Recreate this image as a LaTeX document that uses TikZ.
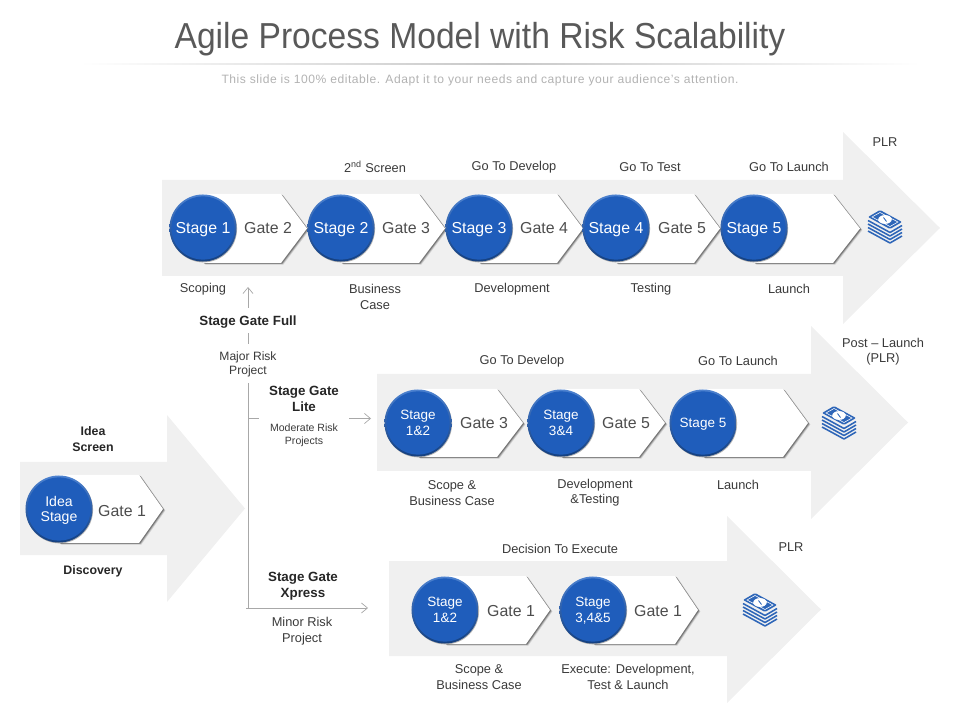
\documentclass[tikz,border=0pt]{standalone}
\usepackage{fontspec}
\setmainfont{Liberation Sans}
\usetikzlibrary{arrows.meta,shadows}

\definecolor{bandgrey}{HTML}{F0F0F0}
\definecolor{stageblue}{HTML}{1F5DBB}
\definecolor{stagerimtop}{HTML}{4C82D0}
\definecolor{stagerimlow}{HTML}{143F80}
\definecolor{cashblue}{HTML}{2E66B8}
\definecolor{labelgrey}{HTML}{3A3A3A}
\definecolor{gategrey}{HTML}{4D4D4D}
\definecolor{linkgrey}{HTML}{A8A8A8}

\tikzset{
	band/.style={fill=bandgrey},
	chevbox/.style={fill=white,
		drop shadow={shadow xshift=1.7pt,shadow yshift=-1.1pt,opacity=.12,fill=black},
		drop shadow={shadow xshift=1.2pt,shadow yshift=-.8pt,opacity=.2,fill=black},
		drop shadow={shadow xshift=.7pt,shadow yshift=-.5pt,opacity=.3,fill=black}},
	stagedisc/.style={shape=circle,minimum size=1.675cm,inner sep=0pt,align=center,text=white,text depth=0pt,top color=stagerimtop,bottom color=stagerimlow,
		drop shadow={shadow xshift=.4pt,shadow yshift=-.6pt,opacity=.3,fill=black},
		font=\fontsize{#1}{11}\selectfont,
		path picture={\fill[stageblue] (path picture bounding box.center) circle (.79cm);}},
	stagedisc/.default=11.3,
	gatetext/.style={text=gategrey,font=\fontsize{11.3}{13}\selectfont},
	steptext/.style={text=labelgrey,align=center,inner sep=0pt,yshift=-.5pt,font=\fontsize{9.1}{11.3}\selectfont},
	gatehead/.style={text=black!85,align=center,inner sep=0pt,yshift=-.5pt,font=\bfseries\fontsize{8.8}{11.3}\selectfont},
	routehead/.style={gatehead,font=\bfseries\fontsize{9.5}{11.3}\selectfont},
	link/.style={draw=linkgrey,line width=.6pt},
	linkarrow/.style={link,-{Straight Barb[length=1.5mm,width=2.5mm,line width=.5pt]}},
	pics/cashstack/.style={code={
		\draw[cashblue,line width=1.1pt,line join=round] (-17,-5.5) -- (5,6.5) -- (17,-.5);
		\draw[cashblue,line width=1.1pt,line join=round] (-17,-2) -- (5,10) -- (17,3);
		\draw[cashblue,line width=1.1pt,line join=round] (-17,1.5) -- (5,13.5) -- (17,6.5);
		\draw[cashblue,line width=1.1pt,line join=round] (-17,5) -- (5,17) -- (17,10);
		\fill[cashblue,rounded corners=.8pt] (-17,-9) -- (-5,-16) -- (17,-4) -- (5,3) -- cycle;
		\draw[white,line width=.4pt] (-13,-9) -- (-5,-13.5) -- (13,-4) -- (5,.5) -- cycle;
		\fill[white] (0,-6.5) ellipse (.17cm and .11cm);
		\draw[cashblue,line width=.6pt] (-1.5,-8.5) -- (1.5,-4.5);
	}}
}

% grey block arrow: body left, head x, tip x, body top, body bottom, head top, head bottom
\newcommand{\bigarrow}[7]{\fill[band] (#1,#4) -- (#2,#4) -- (#2,#6) -- (#3,{(#6+#7)/2}) -- (#2,#7) -- (#2,#5) -- (#1,#5) -- cycle;}
% white tag behind a stage: left, shoulder, tip, top, bottom
\newcommand{\gatetag}[5]{\path[chevbox] (#1,#4) -- (#2,#4) -- (#3,{(#4+#5)/2}) -- (#2,#5) -- (#1,#5) -- cycle;}

\begin{document}
\begin{tikzpicture}[x=.025cm,y=-.025cm]
	\useasboundingbox (0,0) rectangle (960,720);

	\node[text=black!65,font=\fontsize{25.7}{30}\selectfont] (title) at (480,39) {\scalebox{.93}[1]{Agile Process Model with Risk Scalability}};
	\path[left color=white,right color=white,middle color=black!22] (80,63.5) rectangle (920,65);
	\node[text=black!30,font=\fontsize{8.6}{11}\selectfont\addfontfeatures{LetterSpace=4.4}] (subtitle) at (480,80.5) {This slide is 100\% editable. Adapt it to your needs and capture your audience's attention.};

	\bigarrow{162}{843}{940}{180}{276}{132}{324}
	\bigarrow{377}{811}{908}{374}{471}{326}{519}
	\bigarrow{389}{727}{821}{561}{656}{516}{703}
	\bigarrow{20}{167}{245}{462}{555}{415}{602}

	% top row
	\gatetag{203}{281}{307}{194}{263}
	\gatetag{341}{419}{445}{194}{263}
	\gatetag{479}{557}{583}{194}{263}
	\gatetag{616}{694}{720}{194}{263}
	\gatetag{754}{833}{860}{194}{263}
	\node[stagedisc] (s1) at (203,228) {Stage 1};
	\node[stagedisc] (s2) at (341,228) {Stage 2};
	\node[stagedisc] (s3) at (479,228) {Stage 3};
	\node[stagedisc] (s4) at (616,228) {Stage 4};
	\node[stagedisc] (s5) at (754,228) {Stage 5};
	\node[gatetext] (g2) at (268,228) {Gate 2};
	\node[gatetext] (g3) at (406,228) {Gate 3};
	\node[gatetext] (g4) at (544,228) {Gate 4};
	\node[gatetext] (g5) at (682,228) {Gate 5};
	\node[steptext] (t1) at (375,166) {2\textsuperscript{nd} Screen};
	\node[steptext] (t2) at (514,166) {Go To Develop};
	\node[steptext] (t3) at (650,166) {Go To Test};
	\node[steptext] (t4) at (789,166) {Go To Launch};
	\node[steptext] (t5) at (885,141) {PLR};
	\node[steptext] (b1) at (203,288) {Scoping};
	\node[steptext] (b2) at (375,296) {Business\\Case};
	\node[steptext] (b3) at (512,288) {Development};
	\node[steptext] (b4) at (651,288) {Testing};
	\node[steptext] (b5) at (789,288) {Launch};
	\pic at (885,226) {cashstack};

	% middle row
	\gatetag{418}{497}{523}{389}{457}
	\gatetag{561}{639}{665}{389}{457}
	\gatetag{703}{783}{808}{389}{457}
	\node[stagedisc=9.6] (m1) at (418,423) {Stage\\1\&2};
	\node[stagedisc=9.6] (m2) at (561,423) {Stage\\3\&4};
	\node[stagedisc=9.6] (m3) at (703,423) {Stage 5};
	\node[gatetext] (h3) at (484,423) {Gate 3};
	\node[gatetext] (h5) at (626,423) {Gate 5};
	\node[steptext] (u1) at (522,360) {Go To Develop};
	\node[steptext] (u2) at (738,360) {Go To Launch};
	\node[steptext] (u3) at (883,351) {Post -- Launch\\(PLR)};
	\node[steptext] (c1) at (452,492) {Scope \&\\Business Case};
	\node[steptext] (c2) at (595,492) {Development\\\&Testing};
	\node[steptext] (c3) at (738,484) {Launch};
	\pic at (839,422) {cashstack};

	% lower row
	\gatetag{445}{526}{550}{576}{644}
	\gatetag{593}{675}{698}{576}{644}
	\node[stagedisc=9.6] (n1) at (445,610) {Stage\\1\&2};
	\node[stagedisc=9.6] (n2) at (593,610) {Stage\\3,4\&5};
	\node[gatetext] (k1) at (511,611) {Gate 1};
	\node[gatetext] (k2) at (658,611) {Gate 1};
	\node[steptext] (v1) at (560,548) {Decision To Execute};
	\node[steptext] (v2) at (791,546) {PLR};
	\node[steptext] (d1) at (479,676) {Scope \&\\Business Case};
	\node[steptext] (d2) at (628,676) {Execute: Development,\\Test \& Launch};
	\pic at (760,609) {cashstack};

	% idea block
	\gatetag{59}{139}{163}{475}{543}
	\node[stagedisc=10] (idea) at (59,509) {Idea\\Stage};
	\node[gatetext] (g1) at (122,511) {Gate 1};
	\node[gatehead] (ideascreen) at (93,438) {Idea\\Screen};
	\node[gatehead] (discovery) at (93,571) {Discovery};

	% gate choices
	\node[routehead] (full) at (248,321) {Stage Gate Full};
	\node[steptext,font=\fontsize{8.6}{10}\selectfont] (major) at (248,364) {Major Risk\\Project};
	\node[routehead] (lite) at (304,398) {Stage Gate\\Lite};
	\node[steptext,font=\fontsize{7.5}{9.3}\selectfont] (moderate) at (304,435) {Moderate Risk\\Projects};
	\node[routehead] (xpress) at (303,585.5) {Stage Gate\\Xpress};
	\node[steptext] (minor) at (302,630.5) {Minor Risk\\Project};

	\coordinate (fullfoot) at (248,308);
	\coordinate (fulltip) at (248,287);
	\coordinate (majortop) at (248,333);
	\coordinate (majorneck) at (248,344);
	\coordinate (majorfoot) at (248,383);
	\coordinate (corner) at (248,608);
	\coordinate (litefork) at (248,418.5);
	\coordinate (litestub) at (259,418.5);
	\coordinate (litefrom) at (349,418.5);
	\coordinate (litetip) at (371,418.5);
	\coordinate (xpfrom) at (246,608);
	\coordinate (xptip) at (368,608);

	\draw [linkarrow] (fullfoot) -- (fulltip);
	\draw [link] (majorneck) -- (majortop);
	\draw [link] (majorfoot) -- (corner);
	\draw [link] (litefork) -- (litestub);
	\draw [linkarrow] (litefrom) -- (litetip);
	\draw [linkarrow] (xpfrom) -- (xptip);
\end{tikzpicture}
\end{document}
